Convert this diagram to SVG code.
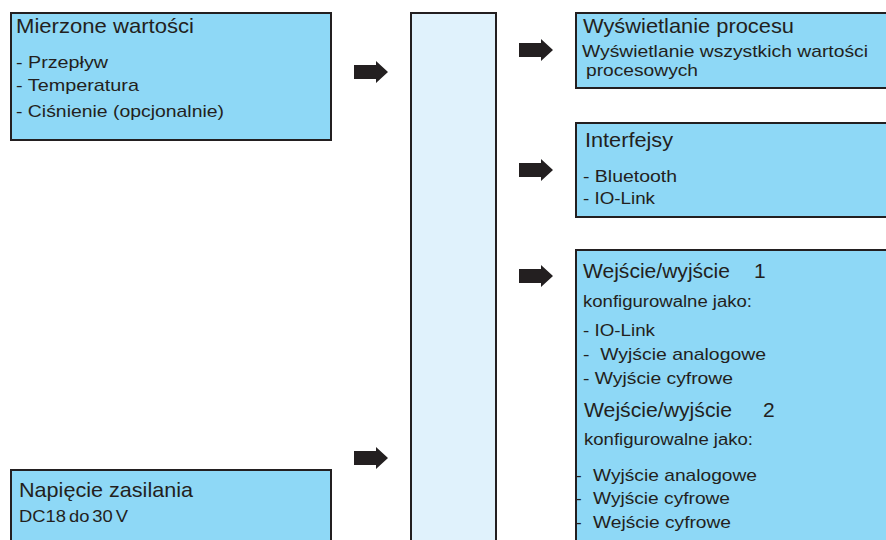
<svg xmlns="http://www.w3.org/2000/svg" width="886" height="540" viewBox="0 0 886 540">
<defs>
<style>
.box{fill:#8ed8f6;stroke:#231f20;stroke-width:2}
.core{fill:#e0f2fc;stroke:#231f20;stroke-width:2}
text{font-family:"Liberation Sans",Arial,sans-serif;fill:#231f20}
.t{font-size:21px}
.s{font-size:17px}
.k{font-size:16px}
.arrow{fill:#231f20}
</style>
<path id="arr" class="arrow" d="M0,-7 H22 V-11 L34,0 L22,11 V7 H0 Z"/>
</defs>
<rect width="886" height="540" fill="#ffffff"/>
<g id="measured">
<rect class="box" x="11" y="13" width="320" height="127"/>
<text class="t" x="16" y="33" textLength="178" lengthAdjust="spacingAndGlyphs">Mierzone wartości</text>
<text class="s" x="16" y="68" textLength="92" lengthAdjust="spacingAndGlyphs">- Przepływ</text>
<text class="s" x="16" y="91" textLength="123" lengthAdjust="spacingAndGlyphs">- Temperatura</text>
<text class="s" x="16" y="117" textLength="208" lengthAdjust="spacingAndGlyphs">- Ciśnienie (opcjonalnie)</text>
</g>
<g id="supply">
<rect class="box" x="11" y="470" width="320" height="80"/>
<text class="t" x="19" y="497" textLength="174" lengthAdjust="spacingAndGlyphs">Napięcie zasilania</text>
<text class="s" x="19" y="522" word-spacing="-2" textLength="109" lengthAdjust="spacingAndGlyphs">DC18 do 30 V</text>
</g>
<g id="device">
<rect class="core" x="411" y="13" width="85" height="540"/>
</g>
<g id="display">
<rect class="box" x="576" y="13" width="320" height="75"/>
<text class="t" x="583" y="33" textLength="211" lengthAdjust="spacingAndGlyphs">Wyświetlanie procesu</text>
<text class="s" x="582" y="57" textLength="286" lengthAdjust="spacingAndGlyphs">Wyświetlanie wszystkich wartości</text>
<text class="s" x="586" y="76" textLength="112" lengthAdjust="spacingAndGlyphs">procesowych</text>
</g>
<g id="interfaces">
<rect class="box" x="576" y="123" width="320" height="94"/>
<text class="t" x="585" y="147" textLength="88" lengthAdjust="spacingAndGlyphs">Interfejsy</text>
<text class="s" x="583" y="182" textLength="94" lengthAdjust="spacingAndGlyphs">- Bluetooth</text>
<text class="s" x="583" y="204" textLength="72" lengthAdjust="spacingAndGlyphs">- IO-Link</text>
</g>
<g id="io">
<rect class="box" x="576" y="250" width="320" height="300"/>
<text class="t" x="583" y="278" textLength="147" lengthAdjust="spacingAndGlyphs">Wejście/wyjście</text>
<text class="t" x="754" y="278">1</text>
<text class="k" x="583" y="307" textLength="169" lengthAdjust="spacingAndGlyphs">konfigurowalne jako:</text>
<text class="s" x="583" y="336" textLength="72" lengthAdjust="spacingAndGlyphs">- IO-Link</text>
<text class="s" x="583" y="360" xml:space="preserve" textLength="183" lengthAdjust="spacingAndGlyphs">-  Wyjście analogowe</text>
<text class="s" x="583" y="384" textLength="150" lengthAdjust="spacingAndGlyphs">- Wyjście cyfrowe</text>
<text class="t" x="584" y="417" textLength="148" lengthAdjust="spacingAndGlyphs">Wejście/wyjście</text>
<text class="t" x="763" y="417">2</text>
<text class="k" x="584" y="445" textLength="169" lengthAdjust="spacingAndGlyphs">konfigurowalne jako:</text>
<text class="s" x="576" y="481">-</text>
<text class="s" x="593" y="481" textLength="164" lengthAdjust="spacingAndGlyphs">Wyjście analogowe</text>
<text class="s" x="576" y="504">-</text>
<text class="s" x="593" y="504" textLength="137" lengthAdjust="spacingAndGlyphs">Wyjście cyfrowe</text>
<text class="s" x="576" y="528">-</text>
<text class="s" x="593" y="528" textLength="138" lengthAdjust="spacingAndGlyphs">Wejście cyfrowe</text>
</g>
<g id="connectors">
<use href="#arr" x="354" y="72"/>
<use href="#arr" x="354" y="458"/>
<use href="#arr" x="519" y="50"/>
<use href="#arr" x="519" y="170"/>
<use href="#arr" x="519" y="276"/>
</g>
</svg>
